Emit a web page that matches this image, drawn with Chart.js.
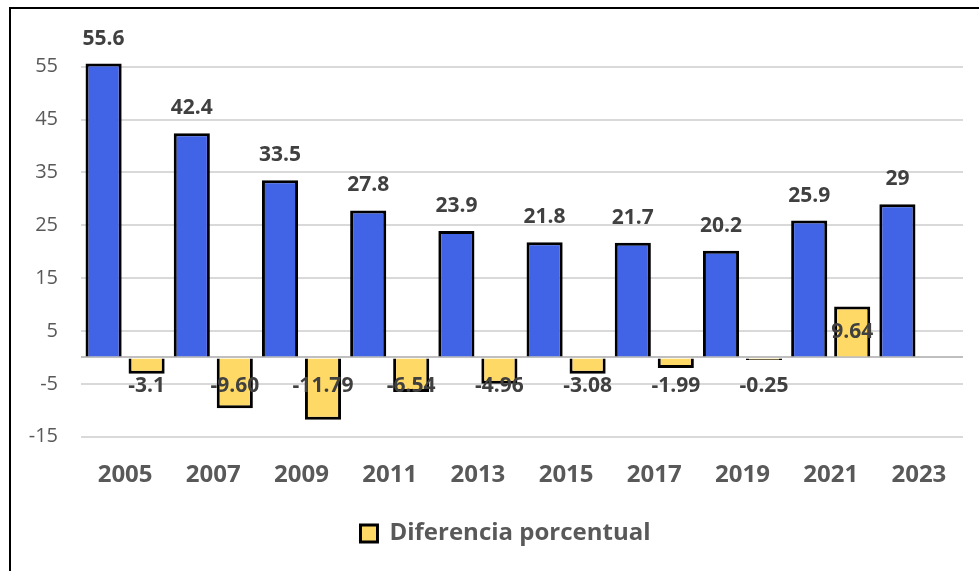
<!DOCTYPE html>
<html>
<head>
<meta charset="utf-8">
<script src="https://cdn.jsdelivr.net/npm/chart.js@4"></script>
<style>
  body { margin: 0; background: #fff; }
</style>
</head>
<body>
<canvas id="myChart" width="979" height="571"></canvas>
<script>
// datos
const years = ['2005', '2007', '2009', '2011', '2013', '2015', '2017', '2019', '2021', '2023'];
const tasa = [55.6, 42.4, 33.5, 27.8, 23.9, 21.8, 21.7, 20.2, 25.9, 29];
const diferencia = [-3.1, -9.60, -11.79, -6.54, -4.96, -3.08, -1.99, -0.25, 9.64, null];
const etiquetasDif = ['-3.1', '-9.60', '-11.79', '-6.54', '-4.96', '-3.08', '-1.99', '-0.25', '9.64', ''];
const yTicks = [-15, -5, 0, 5, 15, 25, 35, 45, 55];

const FONT = '"Open Sans", "DejaVu Sans", sans-serif';

// marco negro (arriba e izquierda)
const marco = {
  id: 'marco',
  afterLayout(chart) {
    // leyenda un poco a la derecha, como en el original
    chart.legend.left += 10;
    chart.legend.right += 10;
  },
  beforeDraw(chart) {
    const ctx = chart.ctx;
    ctx.save();
    ctx.fillStyle = '#fff';
    ctx.fillRect(0, 0, chart.width, chart.height);
    ctx.strokeStyle = '#000';
    ctx.lineWidth = 2;
    ctx.strokeRect(10, 8, chart.width + 20, chart.height + 20);
    ctx.restore();
  }
};

// etiquetas de datos
const etiquetas = {
  id: 'etiquetas',
  afterDatasetsDraw(chart) {
    const ctx = chart.ctx;
    const y0 = chart.scales.y.getPixelForValue(0);
    ctx.save();
    ctx.font = 'bold 21px ' + FONT;
    ctx.fillStyle = '#404040';
    ctx.textAlign = 'center';
    ctx.textBaseline = 'middle';
    chart.getDatasetMeta(0).data.forEach((bar, i) => {
      ctx.fillText(String(tasa[i]), bar.x, bar.y - 25);
    });
    chart.getDatasetMeta(1).data.forEach((bar, i) => {
      if (diferencia[i] == null) return;
      const y = diferencia[i] < 0 ? y0 + 29 : (bar.y + y0) / 2;
      ctx.fillText(etiquetasDif[i], bar.x, y);
    });
    ctx.restore();
  }
};

let myChart = document.getElementById('myChart').getContext('2d');

let barChart = new Chart(myChart, {
  type: 'bar',
  data: {
    labels: years,
    datasets: [{
      label: 'Porcentaje',
      data: tasa,
      backgroundColor: '#4163E6',
      borderColor: '#000',
      borderWidth: 3,
      barPercentage: 0.84,
      categoryPercentage: 0.975
    }, {
      label: 'Diferencia porcentual',
      data: diferencia,
      backgroundColor: '#FFD966',
      borderColor: '#000',
      borderWidth: 3,
      minBarLength: 2.5,
      barPercentage: 0.84,
      categoryPercentage: 0.975
    }]
  },
  options: {
    responsive: false,
    animation: false,
    layout: { padding: { left: 28, right: 16, top: 0, bottom: 15.5 } },
    plugins: {
      tooltip: { enabled: false },
      legend: {
        position: 'bottom',
        labels: {
          filter: item => item.datasetIndex === 1,
          boxWidth: 17,
          boxHeight: 17,
          color: '#595959',
          font: { family: FONT, size: 24, weight: 'bold' },
          padding: 16
        }
      }
    },
    scales: {
      x: {
        grid: { display: false },
        border: { display: false },
        ticks: {
          color: '#595959',
          font: { family: FONT, size: 24, weight: 'bold' },
          padding: 16
        }
      },
      y: {
        min: -15,
        max: 61,
        afterBuildTicks: scale => { scale.ticks = yTicks.map(v => ({ value: v })); },
        afterFit: scale => { scale.width = 53; },
        border: { display: false },
        grid: {
          drawTicks: false,
          lineWidth: 2,
          color: ctx => (ctx.tick && ctx.tick.value === 0) ? '#bfbfbf' : '#d9d9d9'
        },
        ticks: {
          padding: 23,
          color: '#595959',
          font: { family: FONT, size: 20 },
          callback: v => (v === 0 ? '' : v)
        }
      }
    }
  },
  plugins: [marco, etiquetas]
});
</script>
</body>
</html>
